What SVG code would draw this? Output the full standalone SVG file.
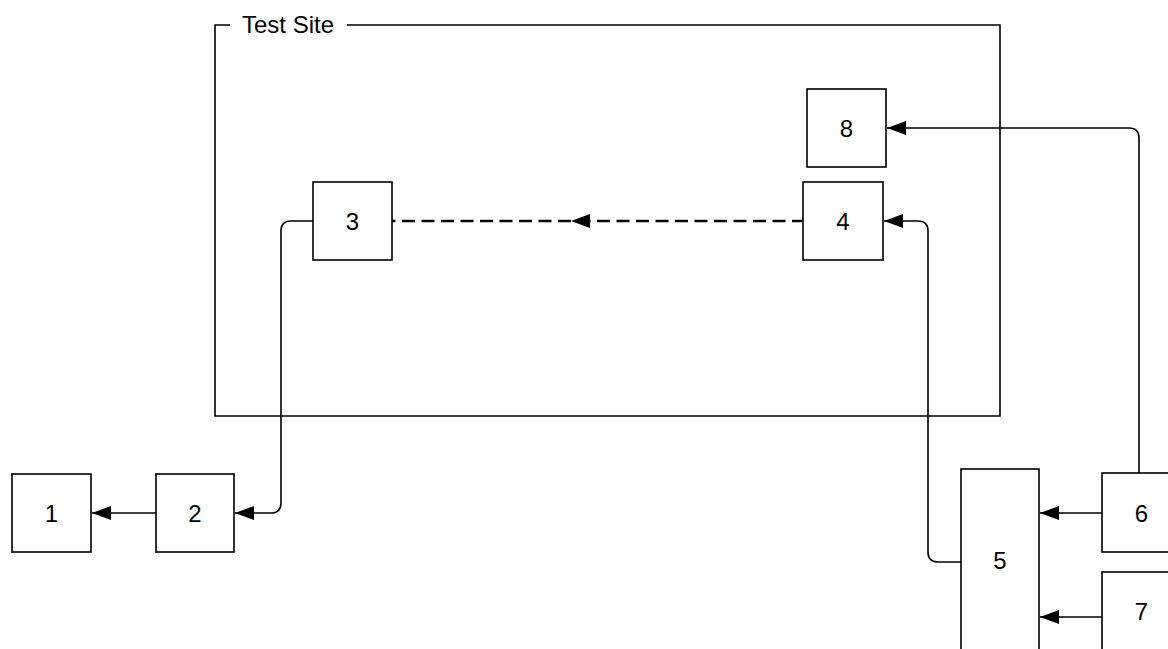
<svg xmlns="http://www.w3.org/2000/svg" width="1168" height="649" viewBox="0 0 1168 649">
<style>
.box{fill:#fff;stroke:#000;stroke-width:1.6}
.lbl{font-family:"Liberation Sans",Arial,sans-serif;font-size:24px;fill:#000;text-anchor:middle;dominant-baseline:central}
.ln{fill:none;stroke:#000;stroke-width:1.6}
.dash{fill:none;stroke:#000;stroke-width:2.6;stroke-dasharray:13 6.5}
</style>
<defs>
<marker id="ah" viewBox="0 0 19 14" markerWidth="19" markerHeight="14" refX="19" refY="7" orient="auto" markerUnits="userSpaceOnUse">
<path d="M0,0 L19,7 L0,14 z" fill="#000"/>
</marker>
</defs>
<rect width="1168" height="649" fill="#fff"/>
<g id="frame">
<path class="ln" d="M230,25 L215,25 L215,416 L1000,416 L1000,25 L347,25"/>
<text x="242" y="33" font-family="Liberation Sans, Arial, sans-serif" font-size="24" fill="#000">Test Site</text>
</g>
<g id="connectors">
<path class="ln" d="M156,513 L92,513" marker-end="url(#ah)"/>
<path class="ln" d="M313,221 L291,221 Q281,221 281,231 L281,503 Q281,513 271,513 L235,513" marker-end="url(#ah)"/>
<path class="dash" d="M805,221 L571,221 L392,221" marker-mid="url(#ah)"/>
<path class="ln" d="M961,562 L938,562 Q928,562 928,552 L928,231 Q928,221 918,221 L884,221" marker-end="url(#ah)"/>
<path class="ln" d="M1139,473 L1139,138 Q1139,128 1129,128 L887,128" marker-end="url(#ah)"/>
<path class="ln" d="M1102,513 L1040,513" marker-end="url(#ah)"/>
<path class="ln" d="M1102,617 L1040,617" marker-end="url(#ah)"/>
</g>
<g id="n1"><rect class="box" x="12" y="474" width="79" height="78"/><text class="lbl" x="51.5" y="513">1</text></g>
<g id="n2"><rect class="box" x="156" y="474" width="78" height="78"/><text class="lbl" x="195" y="513">2</text></g>
<g id="n3"><rect class="box" x="313" y="182" width="79" height="78"/><text class="lbl" x="352.5" y="221">3</text></g>
<g id="n4"><rect class="box" x="803" y="182" width="80" height="78"/><text class="lbl" x="843" y="221">4</text></g>
<g id="n5"><rect class="box" x="961" y="469" width="78" height="185"/><text class="lbl" x="1000" y="560">5</text></g>
<g id="n6"><rect class="box" x="1102" y="473" width="79" height="79"/><text class="lbl" x="1141.5" y="513">6</text></g>
<g id="n7"><rect class="box" x="1102" y="572" width="79" height="80"/><text class="lbl" x="1141.5" y="611">7</text></g>
<g id="n8"><rect class="box" x="807" y="89" width="79" height="78"/><text class="lbl" x="846.5" y="128">8</text></g>
</svg>
